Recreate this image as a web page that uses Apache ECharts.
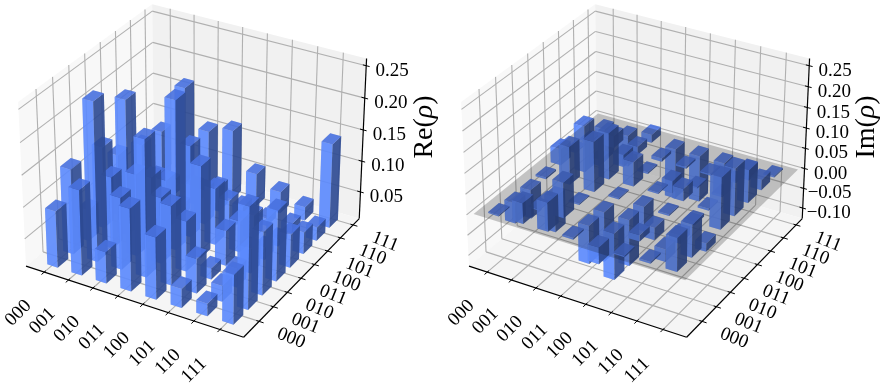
<!DOCTYPE html>
<html>
<head>
<meta charset="utf-8">
<style>html,body{margin:0;padding:0;background:#fff}#contain{width:885px;height:387px}</style>
<script src="https://cdn.jsdelivr.net/npm/echarts@6/dist/echarts.min.js"></script>
</head>
<body>
<div id="contain"></div>
<script>
var basisLabels = ['000','001','010','011','100','101','110','111'];
var reTicks = [0.05,0.10,0.15,0.20,0.25];
var imTicks = [-0.10,-0.05,0.00,0.05,0.10,0.15,0.20,0.25];
// values, row = x label, column = y label
var reRows = [
  [0.096,0.141,0.056,0.136,0.104,0.036,0.026,0.084],
  [0.141,0.256,0.120,0.221,0.131,0.061,0.031,0.166],
  [0.056,0.120,0.136,0.111,0.086,0.024,0.036,0.106],
  [0.136,0.221,0.111,0.242,0.152,0.062,0.046,0.118],
  [0.104,0.131,0.086,0.152,0.096,0.056,0.026,0.059],
  [0.036,0.061,0.024,0.062,0.056,0.044,0.018,0.041],
  [0.026,0.031,0.036,0.046,0.026,0.018,0.021,0.028],
  [0.084,0.166,0.106,0.118,0.059,0.041,0.028,0.141]
];
var imRows = [
  [ 0.003,-0.050,-0.070,-0.004, 0.040, 0.004,-0.004,-0.080],
  [ 0.050, 0.003,-0.086, 0.093, 0.113,-0.015, 0.030,-0.078],
  [ 0.070, 0.086, 0.003, 0.122, 0.113, 0.030, 0.020, 0.020],
  [ 0.004,-0.093,-0.122, 0.003, 0.060, 0.004, 0.008,-0.125],
  [-0.040,-0.113,-0.113,-0.060, 0.003,-0.030, 0.005,-0.115],
  [-0.004, 0.015,-0.030,-0.004, 0.030, 0.003, 0.004,-0.080],
  [ 0.004,-0.030,-0.020,-0.008,-0.005,-0.004, 0.003,-0.025],
  [ 0.080, 0.078,-0.020, 0.125, 0.115, 0.080, 0.025, 0.003]
];
var reZRange = [0.006,0.261];
var imZRange = [-0.127,0.267];

// same camera as a default mplot3d view: elev 30, azim -60, dist 10
var boxX = 1.19, boxY = 1.19, boxZ = 0.893;
var scale = 2095, centerY = 162.7;
function project(t, s, n) {
    var cx = (t - 0.5) * boxX, cy = (s - 0.5) * boxY, cz = (n - 0.5) * boxZ;
    var X = 0.866 * cx + 0.5 * cy;
    var Y = -0.25 * cx + 0.433 * cy + 0.866 * cz;
    var d = 10 - (0.433 * cx - 0.75 * cy + 0.5 * cz);
    return [X / d, Y / d];
}
function tickX(i) { return 0.088 + 0.1155 * i; }
function tickY(i) { return 0.1235 + 0.1169 * i; }
function barX(i) { return 0.092 + 0.1155 * i; }
function barY(i) { return 0.093 + 0.1169 * i; }
var barW = 0.05, barD = 0.078;

var textFont = '"Liberation Serif", "Times New Roman", serif';

function barData(rows) {
    var list = [];
    for (var i = 0; i < 8; i++) {
        for (var j = 0; j < 8; j++) {
            list.push([i, j, rows[i][j]]);
        }
    }
    // far bars first
    list.sort(function (a, b) {
        return (0.433 * barX(a[0]) - 0.75 * barY(a[1])) - (0.433 * barX(b[0]) - 0.75 * barY(b[1]));
    });
    return list;
}

function polyEl(points, fill, stroke, width) {
    return { type: 'polygon', shape: { points: points }, style: { fill: fill, stroke: stroke || null, lineWidth: width || 0 } };
}
function lineEl(a, b, color, width) {
    return { type: 'line', shape: { x1: a[0], y1: a[1], x2: b[0], y2: b[1] }, style: { stroke: color, lineWidth: width, fill: null } };
}

function panesItem(zRange, ticks) {
    return function (params, api) {
        function P(t, s, n) { return api.coord(project(t, s, n)); }
        var kids = [
            polyEl([P(0,0,0),P(0,1,0),P(0,1,1),P(0,0,1)], '#f8f8f8'),
            polyEl([P(0,1,0),P(1,1,0),P(1,1,1),P(0,1,1)], '#f1f1f1'),
            polyEl([P(0,0,0),P(1,0,0),P(1,1,0),P(0,1,0)], '#f5f5f5')
        ];
        var grid = '#b0b0b0', gw = 1.1;
        for (var i = 0; i < 8; i++) {
            var t = tickX(i), s = tickY(i);
            kids.push(lineEl(P(t,0,0), P(t,1,0), grid, gw));
            kids.push(lineEl(P(t,1,0), P(t,1,1), grid, gw));
            kids.push(lineEl(P(1,s,0), P(0,s,0), grid, gw));
            kids.push(lineEl(P(0,s,0), P(0,s,1), grid, gw));
        }
        ticks.forEach(function (v) {
            var n = (v - zRange[0]) / (zRange[1] - zRange[0]);
            kids.push(lineEl(P(0,0,n), P(0,1,n), grid, gw));
            kids.push(lineEl(P(0,1,n), P(1,1,n), grid, gw));
        });
        return { type: 'group', children: kids };
    };
}

function barItem(zRange) {
    var zeroBase = zRange[0] < 0 ? 0 : zRange[0];
    var hidden = 'rgba(60,90,180,0.25)';
    return function (params, api) {
        var i = api.value(0), j = api.value(1), v = api.value(2);
        var lo = Math.min(v, zeroBase), hi = Math.max(v, zeroBase);
        var n0 = (lo - zRange[0]) / (zRange[1] - zRange[0]);
        var n1 = (hi - zRange[0]) / (zRange[1] - zRange[0]);
        var t0 = barX(i) - barW / 2, t1 = barX(i) + barW / 2;
        var s0 = barY(j) - barD / 2, s1 = barY(j) + barD / 2;
        function P(t, s, n) { return api.coord(project(t, s, n)); }
        return {
            type: 'group',
            children: [
                polyEl([P(t0,s0,n0),P(t1,s0,n0),P(t1,s1,n0),P(t0,s1,n0)], hidden),
                polyEl([P(t0,s1,n0),P(t1,s1,n0),P(t1,s1,n1),P(t0,s1,n1)], hidden),
                polyEl([P(t0,s0,n0),P(t0,s1,n0),P(t0,s1,n1),P(t0,s0,n1)], hidden),
                polyEl([P(t0,s0,n0),P(t1,s0,n0),P(t1,s0,n1),P(t0,s0,n1)], 'rgba(92,139,255,0.88)'),
                polyEl([P(t1,s0,n0),P(t1,s1,n0),P(t1,s1,n1),P(t1,s0,n1)], 'rgba(44,73,145,0.88)'),
                polyEl([P(t0,s0,n1),P(t1,s0,n1),P(t1,s1,n1),P(t0,s1,n1)], 'rgba(73,114,224,0.88)')
            ]
        };
    };
}

function planeItem(zRange) {
    var n = (0 - zRange[0]) / (zRange[1] - zRange[0]);
    return function (params, api) {
        function P(t, s) { return api.coord(project(t, s, n)); }
        return polyEl([P(0.02,0.02),P(0.98,0.02),P(0.98,0.98),P(0.02,0.98)], 'rgba(20,20,20,0.23)');
    };
}

function axesItem(zRange, ticks, zLabelX, zLabelText) {
    return function (params, api) {
        function P(t, s, n) { return api.coord(project(t, s, n)); }
        var kids = [
            lineEl(P(0,0,0), P(1,0,0), '#000', 1.2),
            lineEl(P(1,0,0), P(1,1,0), '#000', 1.2),
            lineEl(P(1,1,0), P(1,1,1), '#000', 1.2)
        ];
        function label(text, a, dx, dy, rot) {
            kids.push({
                type: 'text', x: a[0] + dx, y: a[1] + dy, rotation: rot,
                style: { text: text, fill: '#000', font: '19px ' + textFont, align: 'center', verticalAlign: 'middle' }
            });
        }
        basisLabels.forEach(function (name, i) {
            var t = tickX(i), s = tickY(i);
            kids.push(lineEl(P(t,0.012,0), P(t,-0.02,0), '#000', 1));
            kids.push(lineEl(P(0.988,s,0), P(1.02,s,0), '#000', 1));
            label(name, P(t,0,0), -26, 41, Math.PI / 4);
            label(name, P(1,s,0), 32, 17, -0.38);
        });
        ticks.forEach(function (v) {
            var n = (v - zRange[0]) / (zRange[1] - zRange[0]);
            kids.push(lineEl(P(0.985,1,n), P(1.015,1,n), '#000', 1));
            label(v.toFixed(2).replace('-', '\u2212'), P(1,1,n), 26, 5, 0);
        });
        kids.push({
            type: 'text', x: zLabelX, y: 127, rotation: Math.PI / 2,
            style: {
                text: zLabelText + '({i|\u03c1})', fill: '#000', font: '28px ' + textFont,
                align: 'center', verticalAlign: 'middle',
                rich: { i: { font: 'italic 28px ' + textFont, fill: '#000' } }
            }
        });
        return { type: 'group', children: kids };
    };
}

function customSeries(idx, item, data, z) {
    return {
        type: 'custom', coordinateSystem: 'cartesian2d', xAxisIndex: idx, yAxisIndex: idx,
        data: data, renderItem: item, clip: false, silent: true, animation: false, z: z
    };
}

// hidden axes hold the camera plane, the grid maps it to the page
function xAxisFor(left, width, centerX) {
    return { type: 'value', show: false, min: (left - centerX) / scale, max: (left + width - centerX) / scale };
}
var yAxisBox = { type: 'value', show: false, min: (centerY - 387) / scale, max: centerY / scale };

var option = {
    backgroundColor: '#fff',
    animation: false,
    tooltip: { show: false },
    grid: [
        { left: 0, top: 0, width: 442, height: 387, show: false },
        { left: 443, top: 0, width: 442, height: 387, show: false }
    ],
    xAxis: [ xAxisFor(0, 442, 195.7), xAxisFor(443, 442, 638.7) ],
    yAxis: [ yAxisBox, Object.assign({ gridIndex: 1 }, yAxisBox) ],
    series: [
        customSeries(0, panesItem(reZRange, reTicks), [[0,0,0]], 1),
        customSeries(0, barItem(reZRange), barData(reRows), 2),
        customSeries(0, axesItem(reZRange, reTicks, 425, 'Re'), [[0,0,0]], 4),
        customSeries(1, panesItem(imZRange, imTicks), [[0,0,0]], 1),
        customSeries(1, barItem(imZRange), barData(imRows), 2),
        customSeries(1, planeItem(imZRange), [[0,0,0]], 3),
        customSeries(1, axesItem(imZRange, imTicks, 867, 'Im'), [[0,0,0]], 4)
    ]
};
option.xAxis[1].gridIndex = 1;

var myChart = echarts.init(document.getElementById('contain'), null, { renderer: 'canvas' });
myChart.setOption(option);
</script>
</body>
</html>
